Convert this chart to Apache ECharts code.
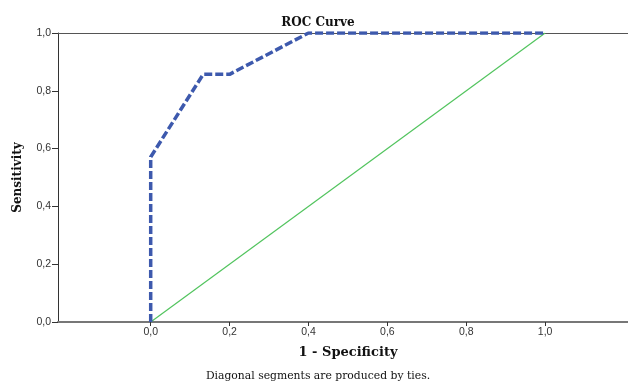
<!DOCTYPE html>
<html>
<head>
<meta charset="utf-8">
<script src="https://cdn.jsdelivr.net/npm/echarts@6/dist/echarts.min.js"></script>
<style>
  html, body { margin: 0; padding: 0; background: #fff; }
  #chart { width: 628px; height: 381px; }
</style>
</head>
<body>
<div id="chart"></div>
<script>
// ROC curve points (1 - specificity, sensitivity)
const fpr = [0, 0, 0.133, 0.2, 0.4, 1];
const tpr = [0, 0.571, 0.857, 0.857, 1, 1];
// Chance diagonal
const diagX = [0, 1];
const diagY = [0, 1];
// Tick values
const xTicks = [0, 0.2, 0.4, 0.6, 0.8, 1.0];
const yTicks = [0, 0.2, 0.4, 0.6, 0.8, 1.0];

const fmt = v => v.toFixed(1).replace('.', ',');
const serif = '"DejaVu Serif", "Liberation Serif", serif';
const sans = '"Liberation Sans", Arial, sans-serif';

const chart = echarts.init(document.getElementById('chart'), null, { renderer: 'canvas' });

chart.setOption({
  animation: false,
  backgroundColor: '#fff',
  title: {
    text: 'ROC Curve',
    left: 313, top: 12,
    textAlign: 'center',
    textStyle: { fontFamily: serif, fontWeight: 'bold', fontSize: 12, color: '#111' }
  },
  graphic: [{
    type: 'text',
    x: 318,
    y: 376,
    style: {
      text: 'Diagonal segments are produced by ties.',
      font: '10.8px ' + serif,
      fill: '#111',
      align: 'center',
      verticalAlign: 'middle'
    }
  }],
  grid: { left: 58, right: 0, top: 33, bottom: 59, containLabel: false },
  xAxis: [{
    type: 'value',
    min: -0.235, max: 1.21,
    name: '1 - Specificity',
    nameLocation: 'middle',
    nameGap: 24,
    nameTextStyle: { fontFamily: serif, fontWeight: 'bold', fontSize: 13, color: '#111', padding: [0, 0, 0, 10] },
    axisLine: { show: true, onZero: false, lineStyle: { color: '#777', width: 2 } },
    axisTick: { show: true, customValues: xTicks, length: 4, lineStyle: { color: '#333' } },
    axisLabel: { customValues: xTicks, formatter: fmt, fontFamily: sans, fontSize: 10.5, color: '#333', margin: 5 },
    splitLine: { show: false }
  }, {
    type: 'value',
    position: 'top',
    min: -0.235, max: 1.21,
    axisLine: { show: true, onZero: false, lineStyle: { color: '#555', width: 1 } },
    axisTick: { show: false },
    axisLabel: { show: false },
    splitLine: { show: false }
  }],
  yAxis: {
    type: 'value',
    min: 0, max: 1, interval: 0.2,
    name: 'Sensitivity',
    nameLocation: 'middle',
    nameGap: 34,
    nameTextStyle: { fontFamily: serif, fontWeight: 'bold', fontSize: 12, color: '#111' },
    axisLine: { show: true, onZero: false, lineStyle: { color: '#333', width: 1 } },
    axisTick: { show: true, customValues: yTicks, length: 6, lineStyle: { color: '#333' } },
    axisLabel: { customValues: yTicks, formatter: fmt, fontFamily: sans, fontSize: 10.5, color: '#333', margin: 7 },
    splitLine: { show: false }
  },
  series: [{
    type: 'line',
    data: diagX.map((x, i) => [x, diagY[i]]),
    symbol: 'none',
    lineStyle: { color: '#52c45e', width: 1.2 },
    z: 2
  }, {
    type: 'line',
    data: fpr.map((x, i) => [x, tpr[i]]),
    symbol: 'none',
    lineStyle: { color: '#3d59ad', width: 3.5, type: [8, 3] },
    z: 3
  }]
});
</script>
</body>
</html>
